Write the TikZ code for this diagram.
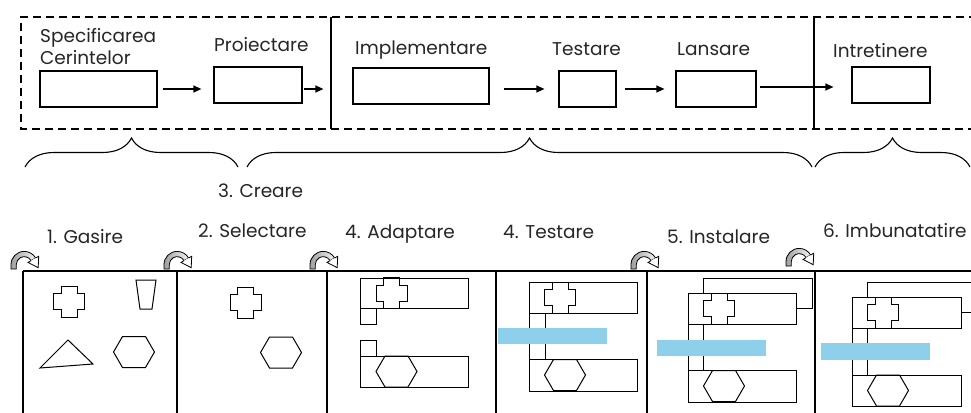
\documentclass[tikz,border=0pt]{standalone}
\usepackage{fontspec}
\setmainfont{Poppins}
\usetikzlibrary{arrows.meta,decorations.pathreplacing}
\definecolor{barblue}{RGB}{142,207,236}
\tikzset{
  box/.style={draw,line width=1.2pt,inner sep=0pt,minimum height=36pt},
  lbl/.style={anchor=base west,inner sep=0pt,font=\fontsize{18.5}{22}\selectfont,text=black!85},
  arr/.style={line width=1.3pt,-{Triangle[length=8pt,width=7pt]}},
  frame/.style={line width=1.2pt,dash pattern=on 8pt off 5pt},
  panel/.style={line width=1.6pt},
  shp/.style={line width=1pt},
  bracestyle/.style={line width=1.1pt,decorate,decoration={brace,amplitude=29pt}},
  bar/.style={fill=barblue,draw=none},
  curvarrow/.pic={
    \begin{scope}[yscale=-1,scale=0.88]
      \draw[line width=0.8pt,left color=gray!75,right color=gray!10]
        (0,0) -- (0,5) arc[start angle=180,end angle=30,radius=15]
        -- (22.8,9.5)
        arc[start angle=30,end angle=180,radius=9] -- (6,0) -- cycle;
      \draw[line width=0.8pt,fill=white]
        (28,12.5) -- (31.5,14.5) -- (30.9,1.5) -- (19.3,7.5) -- (22.8,9.5);
    \end{scope}
  },
  cross/.pic={
    \draw[shp] (-8,-15.5) -- (8,-15.5) -- (8,-8) -- (15.5,-8) -- (15.5,8) -- (8,8)
      -- (8,15.5) -- (-8,15.5) -- (-8,8) -- (-15.5,8) -- (-15.5,-8) -- (-8,-8) -- cycle;
  },
  hexa/.pic={
    \draw[shp] (-20.5,0) -- (-11.5,-15.5) -- (11.5,-15.5) -- (20.5,0)
      -- (11.5,15.5) -- (-11.5,15.5) -- cycle;
  }
}
\begin{document}
\begin{tikzpicture}[x=1pt,y=-1pt]
\useasboundingbox (0,0) rectangle (971,412);
\clip (0,0) rectangle (971,412);
\fill[white] (0,0) rectangle (971,412);

% ---- top frame ----
\draw[frame] (990,17) -- (21,17) -- (21,129) -- (990,129);
\draw[line width=1.2pt] (331,17) -- (331,129);
\draw[line width=1.2pt] (814,17) -- (814,129);

% ---- top boxes ----
\node[box,minimum width=117pt] (spec) at (98.5,89) {};
\node[box,minimum width=88pt]  (proi) at (258,85) {};
\node[box,minimum width=136pt] (impl) at (421,86) {};
\node[box,minimum width=57pt]  (test) at (587.5,89) {};
\node[box,minimum width=80pt]  (lans) at (716,89) {};
\node[box,minimum width=78pt]  (intr) at (891,85) {};

\node[lbl] (tspec1) at (40,43) {Specificarea};
\node[lbl] (tspec2) at (40,65) {Cerintelor};
\node[lbl] (tproi) at (214,52) {Proiectare};
\node[lbl] (timpl) at (355,55) {Implementare};
\node[lbl] (ttest) at (552,56) {Testare};
\node[lbl] (tlans) at (677,56) {Lansare};
\node[lbl] (tintr) at (833,57) {Intretinere};

\draw[arr,shorten <=5pt,shorten >=12pt] (spec.east) -- (proi.west |- spec.east);
\draw[arr,shorten <=1pt,shorten >=29pt] (proi.east |- spec.east) -- (impl.west |- spec.east);
\draw[arr,shorten <=14pt,shorten >=14pt] (impl.east |- test.west) -- (test.west);
\draw[arr,shorten <=8pt,shorten >=11pt] (test.east) -- (lans.west);
\draw[arr,shorten <=3pt,shorten >=18pt] ([yshift=2pt]lans.east) -- ([yshift=2pt]lans.east -| intr.west);

% ---- braces ----
\coordinate (b1a) at (25,167);  \coordinate (b1b) at (238,167);
\coordinate (b2a) at (247,167); \coordinate (b2b) at (812,167);
\coordinate (b3a) at (815,167); \coordinate (b3b) at (970,167);
\draw[bracestyle] (b1a) -- (b1b);
\draw[bracestyle] (b2a) -- (b2b);
\draw[bracestyle] (b3a) -- (b3b);
\node[lbl] (tcre) at (218,197) {3. Creare};

% ---- bottom panels ----
\draw[panel] (23,271) -- (980,271);
\foreach \x in {23,177,327,496,647,815} \draw[panel] (\x,271) -- (\x,415);

\node[lbl] (p1) at (47,243) {1. Gasire};
\node[lbl] (p2) at (198,237) {2. Selectare};
\node[lbl] (p3) at (345,238) {4. Adaptare};
\node[lbl] (p4) at (503,238) {4. Testare};
\node[lbl] (p5) at (667,243) {5. Instalare};
\node[lbl] (p6) at (823,237) {6. Imbunatatire};

\pic at (11,269) {curvarrow};
\pic at (164,269) {curvarrow};
\pic at (310,269) {curvarrow};
\pic at (631,269) {curvarrow};
\pic at (786,266) {curvarrow};

% panel 1
\pic at (69,301.5) {cross};
\draw[shp] (136,280) -- (156,280) -- (152,309) -- (140,309) -- cycle;
\draw[shp] (40,368) -- (68,340) -- (93,364) -- cycle;
\pic at (134,352) {hexa};

% panel 2
\pic at (245.5,302.5) {cross};
\pic at (281,352.5) {hexa};

% panel 3
\draw[shp] (360,278) rectangle (468,308);
\draw[shp] (360,308) rectangle (376,324);
\draw[shp] (360,340) rectangle (376,356);
\draw[shp] (360,356) rectangle (468,387);
\pic at (391.5,293) {cross};
\pic at (396.5,371.5) {hexa};

% panel 4
\draw[shp] (529,282) rectangle (637,313);
\draw[shp] (529,313) rectangle (545,359);
\draw[shp] (529,359) rectangle (637,391);
\pic at (560,297.5) {cross};
\pic at (565,375) {hexa};
\fill[bar] (498,328) rectangle (607,344);

% panel 5
\draw[shp] (703,293) -- (703,278) -- (812,278) -- (812,308) -- (796,308);
\draw[shp] (688,293) rectangle (796,324);
\draw[shp] (688,324) rectangle (703,370);
\draw[shp] (688,370) rectangle (796,402);
\pic at (719,308.5) {cross};
\pic at (724,386) {hexa};
\fill[bar] (657,340) rectangle (766,356);

% panel 6
\draw[shp] (867,297) -- (867,282) -- (980,282);
\draw[shp] (961,312) -- (980,312);
\draw[shp] (852,297) rectangle (961,328);
\draw[shp] (852,328) rectangle (867,375);
\draw[shp] (852,375) rectangle (961,406);
\pic at (883,312.5) {cross};
\pic at (888,390.5) {hexa};
\fill[bar] (821,343) rectangle (930,360);
\end{tikzpicture}
\end{document}
